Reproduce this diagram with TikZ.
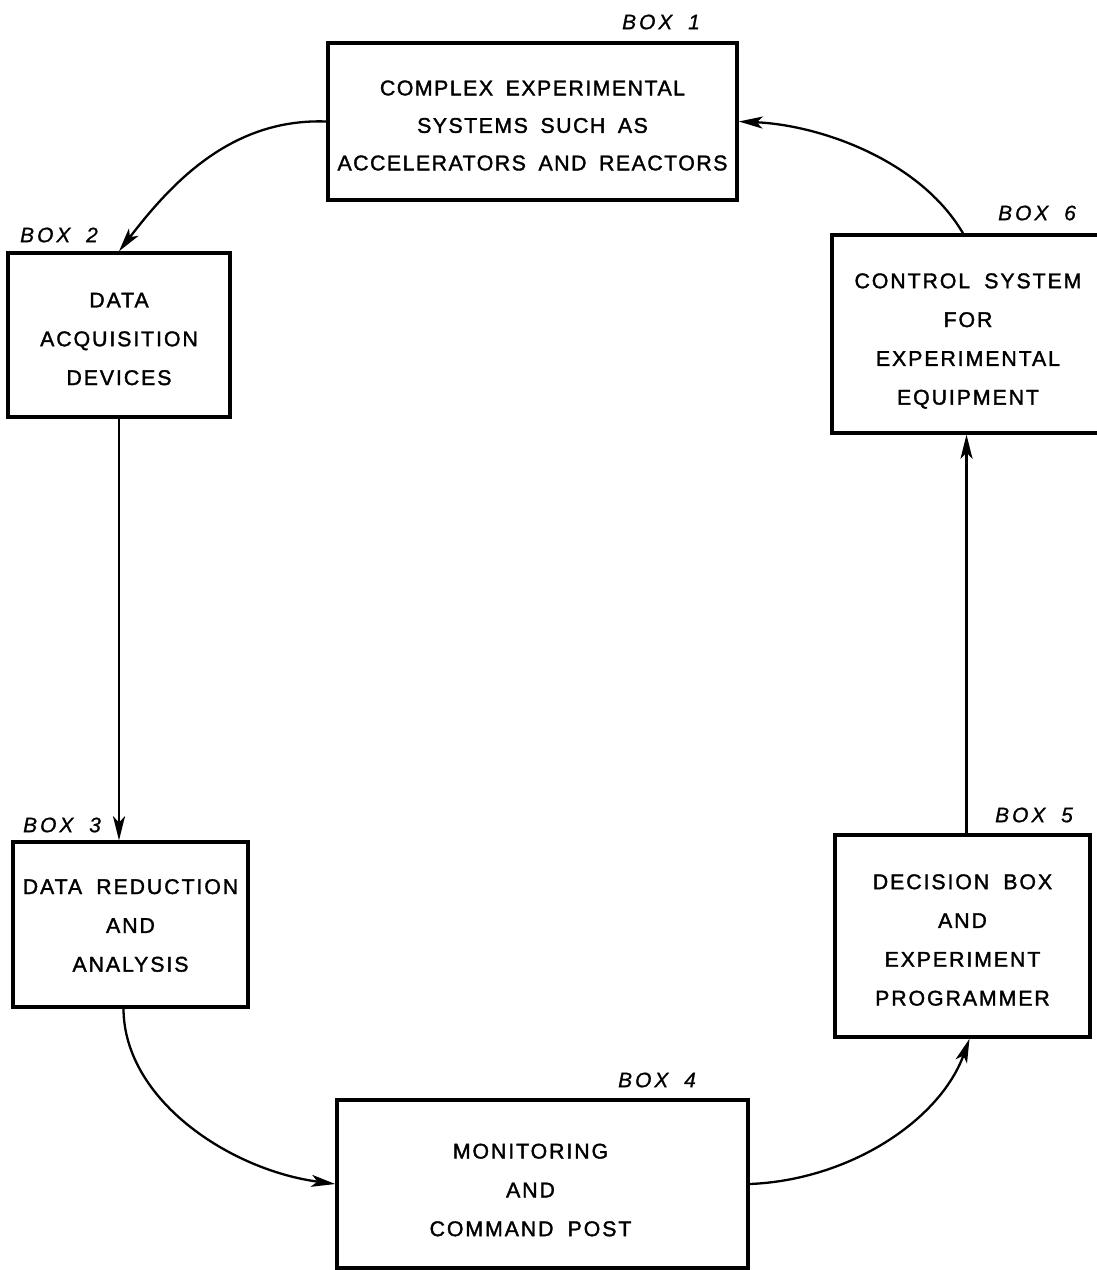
\documentclass[tikz,border=0pt]{standalone}
\usepackage{fontspec}
\usetikzlibrary{arrows.meta}
\newfontfamily\lettering[LetterSpace=9,WordSpace=1.8,FakeBold=1.6]{Liberation Sans}
\newfontfamily\letteringtight[LetterSpace=7,WordSpace=1.7,FakeBold=1.6]{Liberation Sans}
\newfontfamily\tagfont[LetterSpace=14,WordSpace=1.8,FakeBold=0.8]{Liberation Sans}
\begin{document}
\begin{tikzpicture}[x=1pt,y=-1pt,
  box/.style={draw, line width=3.4pt, inner sep=0pt},
  txt/.style={align=center, inner sep=0pt,
    font=\lettering\fontsize{21.3}{38.8}\selectfont},
  tag/.style={font=\tagfont\itshape\fontsize{21}{24}\selectfont, inner sep=0pt},
  arr/.style={line width=2.3pt, -{Stealth[length=24pt,width=12pt,inset=6pt]}}]
\useasboundingbox (0,0) rectangle (1096,1270);

\node[box, minimum width=409pt, minimum height=157pt] (b1) at (532.5,121.5) {};
\node[box, minimum width=222pt, minimum height=164pt] (b2) at (119,335) {};
\node[box, minimum width=235pt, minimum height=165pt] (b3) at (130.5,924.5) {};
\node[box, minimum width=411pt, minimum height=168pt] (b4) at (542.5,1184) {};
\node[box, minimum width=255pt, minimum height=202pt] (b5) at (962.5,936) {};
\node[box, minimum width=268pt, minimum height=198pt] (b6) at (966,334) {};

\node[txt, font=\letteringtight\fontsize{21.3}{37.5}\selectfont] (x1) at ([yshift=-4pt]b1.center)
  {COMPLEX EXPERIMENTAL\\SYSTEMS SUCH AS\\ACCELERATORS AND REACTORS};
\node[txt] (x2) at ([yshift=-4pt]b2.center) {DATA\\ACQUISITION\\DEVICES};
\node[txt] (x3) at ([yshift=-1pt]b3.center) {DATA REDUCTION\\AND\\ANALYSIS};
\node[txt] (x4) at ([xshift=-12pt,yshift=-6pt]b4.center) {MONITORING\\AND\\COMMAND POST};
\node[txt] (x5) at ([yshift=-4pt]b5.center) {DECISION BOX\\AND\\EXPERIMENT\\PROGRAMMER};
\node[txt] (x6) at ([xshift=2pt,yshift=-7pt]b6.center) {CONTROL SYSTEM\\FOR\\EXPERIMENTAL\\EQUIPMENT};

\node[tag] (t1) at (661,22) {BOX 1};
\node[tag] (t2) at (59,235) {BOX 2};
\node[tag] (t3) at (62,825) {BOX 3};
\node[tag] (t4) at (657,1080) {BOX 4};
\node[tag] (t5) at (1034,815) {BOX 5};
\node[tag] (t6) at (1037,213) {BOX 6};

\draw[arr] (b1.west) .. controls (230,118) and (170,185) .. (b2.north);
\draw[arr] (b2.south) -- (b2.south |- b3.north);
\draw[arr] ([xshift=-7pt]b3.south) .. controls (124,1100) and (230,1170) .. (b4.west);
\draw[arr] (b4.east) .. controls (850,1180) and (940,1120) .. ([xshift=7pt]b5.south);
\draw[arr] ([xshift=4pt]b5.north) -- ([xshift=4pt]b5.north |- b6.south);
\draw[arr] ([xshift=-3pt]b6.north) .. controls (920,160) and (820,125) .. (b1.east);
\end{tikzpicture}
\end{document}
